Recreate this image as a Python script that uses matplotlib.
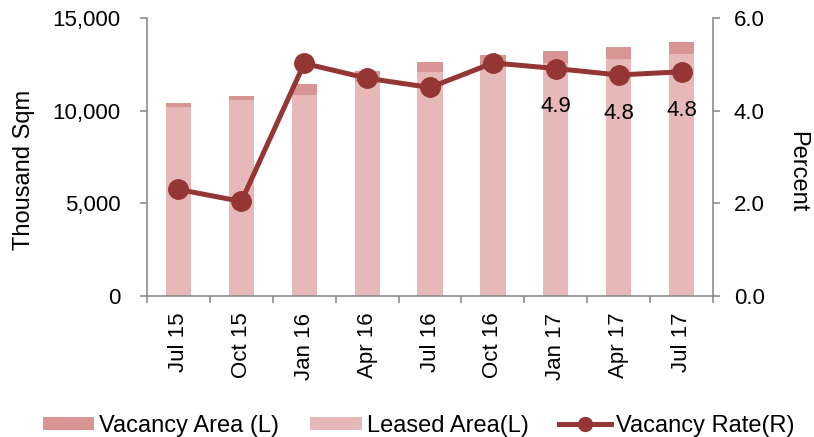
import matplotlib.pyplot as plt
from matplotlib.lines import Line2D
import numpy as np

plt.rcParams['font.family'] = ['Liberation Sans', 'DejaVu Sans']

quarters = ["Jul 15", "Oct 15", "Jan 16", "Apr 16", "Jul 16", "Oct 16", "Jan 17", "Apr 17", "Jul 17"]
leased = [10200, 10570, 10850, 11570, 12060, 12350, 12570, 12800, 13040]
vacancy = [240, 220, 570, 570, 570, 650, 650, 640, 660]
vacancy_rate = [2.3, 2.04, 5.02, 4.7, 4.5, 5.03, 4.91, 4.77, 4.84]
rate_labels = {6: "4.9", 7: "4.8", 8: "4.8"}

c_vac = "#D99594"
c_lea = "#E6B9B8"
c_line = "#943634"
c_axis = "#8C8C8C"

fig = plt.figure(figsize=(8.14, 4.37), dpi=100)
ax = fig.add_axes([0.1806, 0.3227, 0.6954, 0.6361])
x = np.arange(len(quarters))

b_lea = ax.bar(x, leased, width=0.4, color=c_lea, label="Leased Area(L)", zorder=2)
b_vac = ax.bar(x, vacancy, width=0.4, bottom=leased, color=c_vac, label="Vacancy Area (L)", zorder=2)

ax.set_xlim(-0.5, len(quarters) - 0.5)
ax.set_ylim(0, 15000)
ax.set_yticks([0, 5000, 10000, 15000])
ax.set_yticklabels(["0", "5,000", "10,000", "15,000"])
ax.set_xticks(x)
ax.set_xticklabels(quarters, rotation=90)
ax.set_xticks(np.arange(-0.5, len(quarters)), minor=True)
ax.tick_params(axis="x", which="major", length=0, pad=12, labelsize=16)
ax.tick_params(axis="x", which="minor", length=5, color=c_axis, width=1.2)
ax.tick_params(axis="y", length=5, color=c_axis, width=1.2, labelsize=16, pad=14)
for s in ["top", "right"]:
    ax.spines[s].set_visible(False)
for s in ["left", "bottom"]:
    ax.spines[s].set_color(c_axis)
    ax.spines[s].set_linewidth(1.2)

ax2 = ax.twinx()
line, = ax2.plot(x, vacancy_rate, color=c_line, lw=3.6, marker="o", ms=14, label="Vacancy Rate(R)", zorder=3)
ax2.set_ylim(0, 6)
ax2.set_yticks([0, 2, 4, 6])
ax2.set_yticklabels(["0.0", "2.0", "4.0", "6.0"])
ax2.tick_params(axis="y", length=5, color=c_axis, width=1.2, labelsize=16, pad=10)
for s in ["top", "left", "bottom"]:
    ax2.spines[s].set_visible(False)
ax2.spines["right"].set_color(c_axis)
ax2.spines["right"].set_linewidth(1.2)

# axis titles sit a bit below the axes centre, as in the original
fig.text(0.0295, 0.611, "Thousand Sqm", rotation=90, ha="center", va="center", fontsize=17)
fig.text(0.979, 0.606, "Percent", rotation=270, ha="center", va="center", fontsize=17)

for i, t in rate_labels.items():
    ax2.annotate(t, (x[i], vacancy_rate[i]), xytext=(0, -20), textcoords="offset points",
                 ha="center", va="top", fontsize=16)

# legend entry for the line uses a smaller marker, like the original
line_handle = Line2D([], [], color=c_line, lw=3.6, marker="o", ms=10)
fig.legend([b_vac, b_lea, line_handle], ["Vacancy Area (L)", "Leased Area(L)", "Vacancy Rate(R)"],
           loc="center", bbox_to_anchor=(0.514, 0.026), ncol=3, frameon=False, fontsize=17,
           handlelength=2.2, handleheight=0.5, columnspacing=1.3, handletextpad=0.2,
           borderpad=0)

fig.savefig("out.png", dpi=100)
